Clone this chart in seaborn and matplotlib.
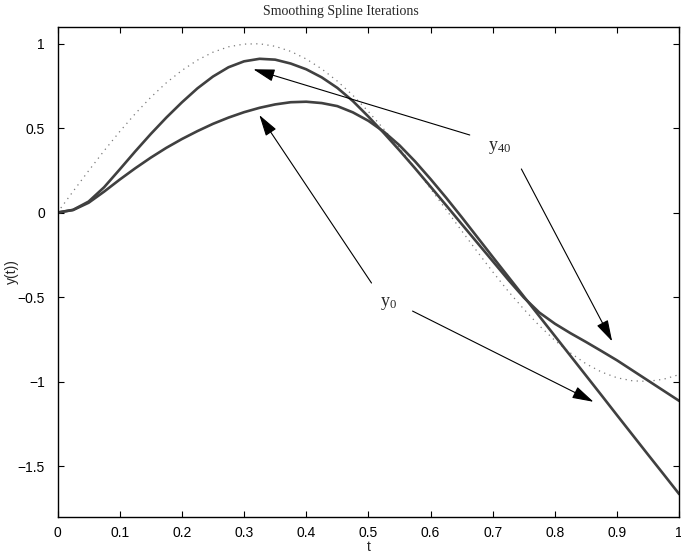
import numpy as np
import matplotlib
matplotlib.use("Agg")
import matplotlib.pyplot as plt
import seaborn as sns
from matplotlib.ticker import FuncFormatter

# sample points along t (every 0.025)
t = np.linspace(0, 1, 41)

# dotted reference curve
y_true = [0.0, 0.125, 0.247, 0.366, 0.479, 0.585, 0.682, 0.768, 0.841, 0.902,
          0.949, 0.981, 0.997, 0.999, 0.984, 0.954, 0.909, 0.850, 0.778, 0.694,
          0.598, 0.493, 0.382, 0.264, 0.141, 0.017, -0.108, -0.231, -0.351, -0.466,
          -0.572, -0.670, -0.757, -0.831, -0.895, -0.944, -0.978, -0.996, -0.999,
          -0.986, -0.959]

# first iterate (y_0)
y0 = [0.0, 0.015, 0.058, 0.124, 0.195, 0.262, 0.325, 0.383, 0.435, 0.482,
      0.525, 0.562, 0.594, 0.62, 0.64, 0.653, 0.656, 0.648, 0.63, 0.593,
      0.543, 0.478, 0.398, 0.303, 0.198, 0.088, -0.027, -0.145, -0.263, -0.38,
      -0.497, -0.614, -0.731, -0.848, -0.965, -1.082, -1.2, -1.317, -1.434,
      -1.55, -1.667]

# 40th iterate (y_40)
y40 = [0.0, 0.016, 0.065, 0.15, 0.255, 0.362, 0.465, 0.562, 0.652, 0.735,
       0.805, 0.86, 0.895, 0.91, 0.905, 0.882, 0.848, 0.8, 0.738, 0.66,
       0.568, 0.47, 0.368, 0.262, 0.153, 0.043, -0.068, -0.178, -0.288, -0.398,
       -0.503, -0.592, -0.658, -0.714, -0.766, -0.82, -0.875, -0.935, -0.995,
       -1.055, -1.115]

x_ticks = [0, 0.1, 0.2, 0.3, 0.4, 0.5, 0.6, 0.7, 0.8, 0.9, 1]
y_ticks = [-1.5, -1, -0.5, 0, 0.5, 1]

sns.set_style("ticks")
plt.rcParams["font.family"] = ["Liberation Sans", "DejaVu Sans"]
plt.rcParams["mathtext.fontset"] = "custom"
plt.rcParams["mathtext.rm"] = "Liberation Serif"
plt.rcParams["mathtext.it"] = "Liberation Serif:italic"

fig = plt.figure(figsize=(6.81, 5.59), dpi=100)
ax = fig.add_axes([57.5 / 681, 42.3 / 559, 621.8 / 681, 490 / 559])

line_color = "#404040"
sns.lineplot(x=t, y=y_true, ax=ax, color="#7a7a7a", lw=0.9,
             linestyle=(0, (1, 3.5)), sort=False)
sns.lineplot(x=t, y=y0, ax=ax, color=line_color, lw=1.9, sort=False)
sns.lineplot(x=t, y=y40, ax=ax, color=line_color, lw=1.9, sort=False)

ax.set_xlim(0, 1)
ax.set_ylim(-1.8, 1.1)
ax.set_xticks(x_ticks)
ax.set_yticks(y_ticks)
fmt = FuncFormatter(lambda v, pos: ("%g" % v).replace("-", "\u2212"))
ax.xaxis.set_major_formatter(fmt)
ax.yaxis.set_major_formatter(fmt)
ax.tick_params(direction="in", length=4.5, width=0.8, labelsize=10,
               top=True, right=True, colors="black")
ax.tick_params(axis="y", pad=9)
ax.tick_params(axis="x", pad=7)
for s in ax.spines.values():
    s.set_visible(True)
    s.set_linewidth(1.0)
    s.set_color("black")

# title sits centred on the figure, as in the source
fig.text(341 / 681, 1 - 12 / 559, "Smoothing Spline Iterations",
         fontfamily="Liberation Serif", fontsize=10, ha="center", va="center")
ax.set_xlabel("t", fontsize=10, labelpad=0)
ax.set_ylabel("y(t))", fontsize=10, labelpad=-1)

arrow = dict(arrowstyle="-|>,head_length=1.1,head_width=0.32", color="black",
             lw=0.8, shrinkA=0, shrinkB=0, mutation_scale=12)

# y_40 label with two arrows
ax.text(0.693, 0.385, r"$\mathrm{y}_{\mathrm{40}}$", fontsize=13,
        ha="left", va="center")
ax.annotate("", xy=(0.315, 0.848), xytext=(0.663, 0.459), arrowprops=arrow)
ax.annotate("", xy=(0.892, -0.762), xytext=(0.746, 0.258), arrowprops=arrow)

# y_0 label with two arrows
ax.text(0.519, -0.54, r"$\mathrm{y}_{\mathrm{0}}$", fontsize=13,
        ha="left", va="center")
ax.annotate("", xy=(0.3246, 0.577), xytext=(0.505, -0.417), arrowprops=arrow)
ax.annotate("", xy=(0.862, -1.12), xytext=(0.571, -0.583), arrowprops=arrow)

fig.savefig("out.png", dpi=100)
